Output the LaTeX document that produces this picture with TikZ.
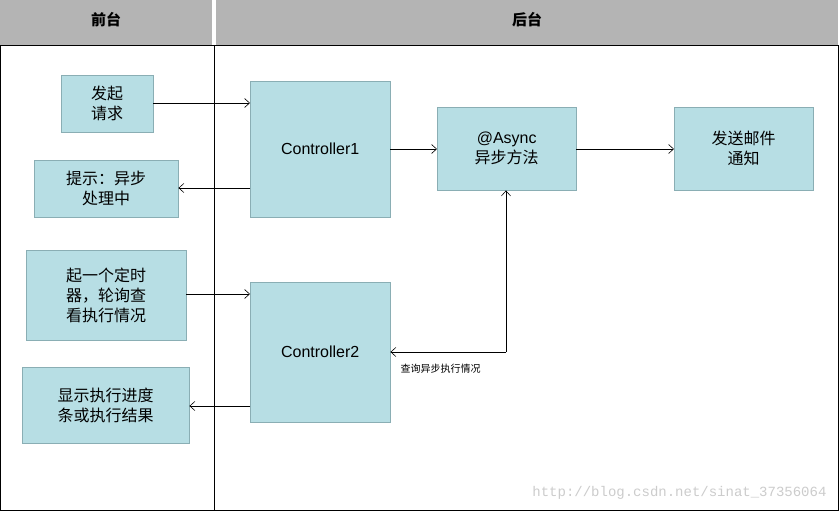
\documentclass[tikz,border=0pt]{standalone}
\usepackage{fontspec}
\setmainfont{Liberation Sans}
\newfontfamily\cjk{Noto Sans CJK SC}
\newfontfamily\mono{Liberation Mono}
\usetikzlibrary{arrows.meta}
\definecolor{boxfill}{HTML}{B7DEE4}
\definecolor{boxline}{HTML}{8AAEB4}
\definecolor{hdr}{HTML}{B4B4B4}
\begin{document}
\begin{tikzpicture}[x=1pt,y=-1pt,
  box/.style={draw=boxline,fill=boxfill,inner sep=0pt,align=center,font=\fontsize{16}{20}\selectfont\cjk},
  arr/.style={-{Straight Barb[length=5pt,width=9pt]},line width=0.6pt}]
\useasboundingbox (0,0) rectangle (840,513);
\fill[white] (0,0) rectangle (840,513);
\fill[hdr] (0,0) rectangle (212,45);
\fill[hdr] (216,0) rectangle (838,45);
\node[font=\fontsize{15}{18}\selectfont\cjk\bfseries] (h1) at (106,20) {前台};
\node[font=\fontsize{15}{18}\selectfont\cjk\bfseries] (h2) at (527,20) {后台};
\draw[line width=0.8pt] (0,45) rectangle (838,510);
\draw[line width=0.8pt] (214,45) -- (214,510);
\path (61,75) node[box,anchor=north west,minimum width=92pt,minimum height=57pt] (req) {发起\\请求};
\path (34,160) node[box,anchor=north west,minimum width=144pt,minimum height=57pt] (tip) {提示：异步\\处理中};
\path (250,81) node[box,anchor=north west,minimum width=140pt,minimum height=136pt,font=\fontsize{16}{20}\selectfont] (c1) {Controller1};
\path (437,107) node[box,anchor=north west,minimum width=139pt,minimum height=83pt] (as) {{\fontspec{Liberation Sans}@Async}\\异步方法};
\path (674,107) node[box,anchor=north west,minimum width=139pt,minimum height=83pt] (mail) {发送邮件\\通知};
\path (26,250) node[box,anchor=north west,minimum width=160pt,minimum height=90pt] (tm) {起一个定时\\器，轮询查\\看执行情况};
\path (250,282) node[box,anchor=north west,minimum width=140pt,minimum height=140pt,font=\fontsize{16}{20}\selectfont] (c2) {Controller2};
\path (22,367) node[box,anchor=north west,minimum width=167pt,minimum height=76pt] (sh) {显示执行进度\\条或执行结果};
\draw[arr] (req.east |- 0,103) -- (c1.west |- 0,103);
\draw[arr] (c1.west |- 0,188) -- (tip.east |- 0,188);
\draw[arr] (c1.east |- 0,149) -- (as.west |- 0,149);
\draw[arr] (as.east |- 0,149) -- (mail.west |- 0,149);
\draw[arr] (tm.east |- 0,294) -- (c2.west |- 0,294);
\draw[arr] (c2.west |- 0,406) -- (sh.east |- 0,406);
\coordinate (k) at (506,352);
\draw[arr] (k) -- (as.south -| k);
\draw[arr] (k) -- (c2.east |- k);
\node[font=\fontsize{10}{12}\selectfont\cjk,anchor=west] (lbl) at (397,369) {查询异步执行情况};
\node[font=\fontsize{14}{16}\selectfont\mono,text=black!20,anchor=east] (wm) at (830,493) {http://blog.csdn.net/sinat\_37356064};
\end{tikzpicture}
\end{document}
